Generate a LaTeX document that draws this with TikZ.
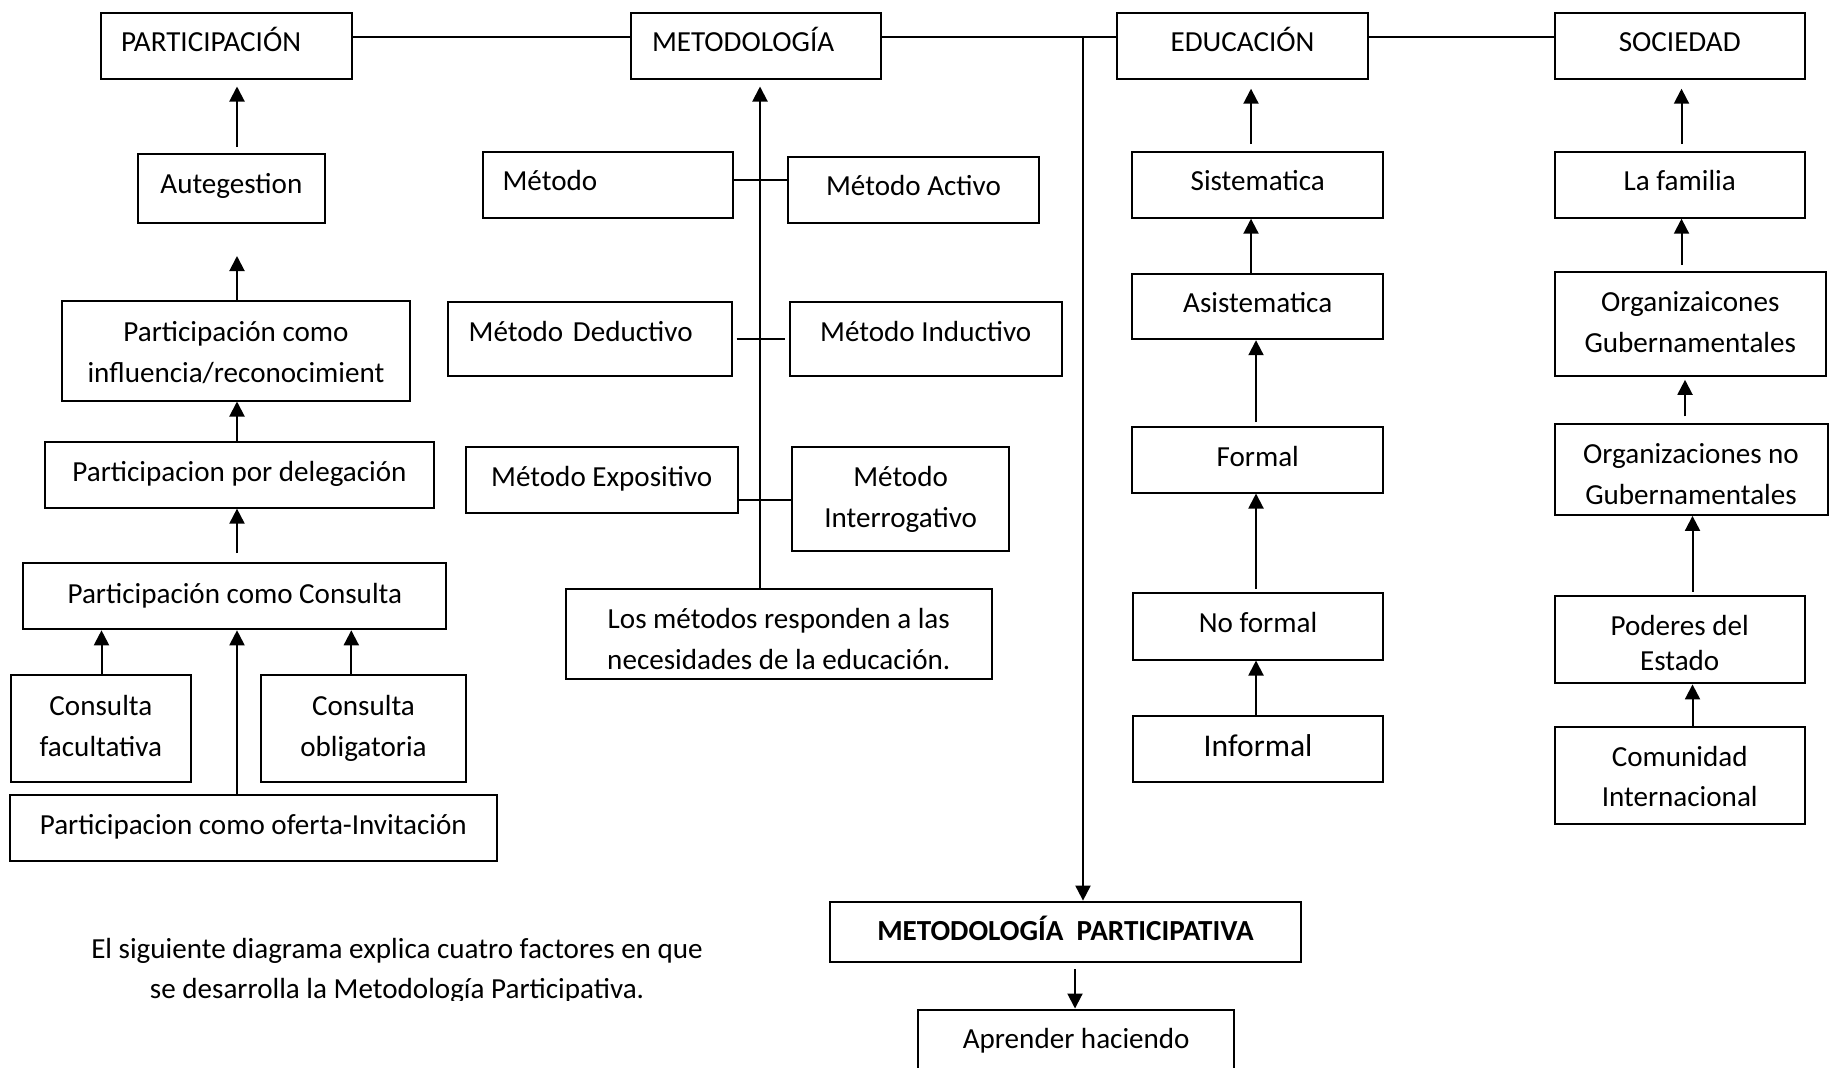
\documentclass[tikz,border=0pt]{standalone}
\usepackage{fontspec}
\setmainfont{Carlito}
\usetikzlibrary{arrows.meta}
\tikzset{
  txt/.style={font=\fontsize{14.55pt}{20.5pt}\selectfont},
  box/.style={txt, draw, line width=1pt, inner sep=0pt, align=center},
  arr/.style={line width=1pt, -{Triangle[length=7.5pt,width=7.5pt]}},
  ln/.style={line width=1pt},
}
% single-line box: [opts]{name}{x1}{y1}{x2}{y2}{text}
\newcommand\bx[7][]{\node[box,text height=12pt,text depth=6.5pt,minimum width={(#5-#3)*0.5pt},minimum height={(#6-#4)*0.5pt},#1] (#2) at ({(#3+#5)/2},{(#4+#6)/2}) {#7};}
% multi-line box: [opts]{name}{x1}{y1}{x2}{y2}{top strut}{bottom strut}{text}
\newcommand\mbx[9][]{\node[box,minimum width={(#5-#3)*0.5pt},minimum height={(#6-#4)*0.5pt},#1] (#2) at ({(#3+#5)/2},{(#4+#6)/2}) {\rule{0pt}{#7pt}#9\rule[-#8pt]{0pt}{#8pt}};}
\begin{document}
\begin{tikzpicture}[x=0.5pt,y=-0.5pt]
\fill[white] (0,0) rectangle (1829,1067);
\useasboundingbox (0,0) rectangle (1829,1067);
% top row
\bx[align=left,inner xsep=10pt,text width=105.5pt]{P}{101}{13}{352}{78.5}{PARTICIPACIÓN}
\bx[align=left,inner xsep=10.5pt,text width=104pt]{M}{631}{13}{881}{78.5}{METODOLOGÍA}
\bx{E}{1117}{13}{1368}{78.5}{EDUCACIÓN}
\bx{S}{1554.5}{13}{1805}{78.5}{SOCIEDAD}
% participacion column
\bx[text depth=7.5pt]{Aut}{137.7}{154}{325}{223}{Autegestion}
\mbx{Inf}{62.4}{300.6}{409.6}{400.5}{15.5}{4.5}{Participación como\\influencia/reconocimient}
\bx[text depth=5.5pt]{Del}{45}{441.8}{434}{507.6}{Participacion por delegación}
\bx[text depth=4.5pt]{Con}{23.3}{563.2}{446.4}{629.3}{Participación como Consulta}
\mbx{Fac}{11}{674.5}{190.8}{782.4}{12}{4.5}{Consulta\\facultativa}
\mbx{Obl}{260.8}{674.5}{466.2}{782.4}{12}{4.5}{Consulta\\obligatoria}
\bx[text depth=5pt]{Ofe}{10}{794.7}{496.6}{861.2}{Participacion como oferta-Invitación}
% metodologia column
\bx[align=left,inner xsep=10pt,text width=105.2pt,text depth=6.5pt]{Met}{482.6}{151.5}{733}{217.7}{Método}
\bx[text depth=6.5pt]{Act}{788}{156.7}{1039}{222.8}{Método Activo}
\bx[align=left,inner xsep=10.5pt,text width=121pt,text depth=9.5pt]{Ded}{447.6}{302}{731.7}{376}{Método Deductivo}
\bx[text depth=9.5pt]{Ind}{789.5}{302}{1062}{376}{Método Inductivo}
\bx[text depth=6pt]{Exp}{466}{447.4}{737.6}{513}{Método Expositivo}
\mbx{Int}{791.8}{447.4}{1009.4}{551}{12.6}{4.5}{Método\\Interrogativo}
\mbx{LM}{566}{589}{991.6}{679}{19.4}{4.5}{Los métodos responden a las\\necesidades de la educación.}
% educacion column
\bx[text depth=6pt]{Sis}{1132.4}{151.5}{1383}{217.7}{Sistematica}
\bx[text depth=6pt]{Asi}{1132.4}{273.8}{1383}{339.2}{Asistematica}
\bx[text depth=5.4pt]{For}{1132.4}{426.7}{1383}{492.5}{Formal}
\bx[text depth=5.5pt]{NoF}{1132.7}{593}{1383.4}{659.5}{No formal}
\bx[font=\fontsize{15.8pt}{20.5pt}\selectfont,text depth=4.5pt]{Infm}{1132.7}{716}{1383.4}{782}{Informal}
% sociedad column
\bx[text depth=6pt]{Fam}{1554.5}{151.5}{1805}{217.7}{La familia}
\mbx{OG}{1554.5}{271.7}{1826}{376}{13}{4.5}{Organizaicones\\Gubernamentales}
\mbx{ONG}{1554.5}{424.3}{1827.5}{514.9}{19}{4.5}{Organizaciones no\\Gubernamentales}
\mbx[font=\fontsize{14.55pt}{17.5pt}\selectfont]{Pod}{1554.7}{595.8}{1804.7}{683.4}{18.2}{4.5}{Poderes del\\Estado}
\mbx[font=\fontsize{14.55pt}{19.7pt}\selectfont]{Com}{1554.7}{727}{1804.7}{823.5}{15.8}{4.5}{Comunidad\\Internacional}
% bottom
\bx[text depth=3pt]{MP}{829.5}{901.6}{1301.4}{962.2}{\bfseries METODOLOGÍA\ \ PARTICIPATIVA}
\bx[text depth=5.5pt]{AH}{918}{1009.5}{1234.4}{1075}{Aprender haciendo}
\begin{scope}
\clip (0,900) rectangle (820,1000);
\node[font=\fontsize{14.55pt}{20.3pt}\selectfont,align=center,inner sep=0pt] (cap) at (397,971) {\rule{0pt}{12pt}El siguiente diagrama explica cuatro factores en que\\se desarrolla la Metodología Participativa.\rule[-4.5pt]{0pt}{4.5pt}};
\end{scope}
% coordinates
\coordinate (hub) at (1083,37);
\coordinate (pv) at (237,0);
\coordinate (fa) at (101.5,0);
\coordinate (ob) at (351.3,0);
\coordinate (mv) at (760,0);
\coordinate (mpx) at (1075,0);
\coordinate (ev1) at (1251,0);
\coordinate (ev2) at (1256,0);
\coordinate (sv1) at (1681.5,0);
\coordinate (sv2) at (1685,0);
\coordinate (sv3) at (1692.5,0);
\coordinate (r1) at (0,180);
\coordinate (r2) at (0,339);
\coordinate (r3) at (0,500);
% top connectors
\draw[ln] (P.east |- hub) -- (M.west |- hub);
\draw[ln] (M.east |- hub) -- (E.west |- hub);
\draw[ln] (E.east |- hub) -- (S.west |- hub);
\draw[arr] (hub) -- (MP.north -| hub);
\draw[arr,shorten <=3pt] (MP.south -| mpx) -- (AH.north -| mpx);
% participacion arrows
\draw[arr,shorten <=3pt,shorten >=3.5pt] (Aut.north -| pv) -- (P.south -| pv);
\draw[arr,shorten >=16pt] (Inf.north -| pv) -- (Aut.south -| pv);
\draw[arr] (Del.north -| pv) -- (Inf.south -| pv);
\draw[arr,shorten <=4.6pt] (Con.north -| pv) -- (Del.south -| pv);
\draw[arr] (Ofe.north -| pv) -- (Con.south -| pv);
\draw[arr] (Fac.north -| fa) -- (Con.south -| fa);
\draw[arr] (Obl.north -| ob) -- (Con.south -| ob);
% metodologia
\draw[arr,shorten >=3.5pt] (LM.north -| mv) -- (M.south -| mv);
\draw[ln] (Met.east |- r1) -- (Act.west |- r1);
\draw[ln,shorten <=2pt,shorten >=2pt] (Ded.east |- r2) -- (Ind.west |- r2);
\draw[ln] (Exp.east |- r3) -- (Int.west |- r3);
% educacion
\draw[arr,shorten <=3.2pt,shorten >=4.6pt] (Sis.north -| ev1) -- (E.south -| ev1);
\draw[arr] (Asi.north -| ev1) -- (Sis.south -| ev1);
\draw[arr,shorten <=1.8pt] (For.north -| ev2) -- (Asi.south -| ev2);
\draw[arr,shorten <=1.5pt] (NoF.north -| ev2) -- (For.south -| ev2);
\draw[arr] (Infm.north -| ev2) -- (NoF.south -| ev2);
% sociedad
\draw[arr,shorten <=3.2pt,shorten >=4.6pt] (Fam.north -| sv1) -- (S.south -| sv1);
\draw[arr,shorten <=2.8pt] (OG.north -| sv1) -- (Fam.south -| sv1);
\draw[arr,shorten <=3.5pt,shorten >=1.4pt] (ONG.north -| sv2) -- (OG.south -| sv2);
\draw[arr,shorten <=1.5pt] (Pod.north -| sv3) -- (ONG.south -| sv3);
\draw[arr] (Com.north -| sv3) -- (Pod.south -| sv3);
\end{tikzpicture}
\end{document}
